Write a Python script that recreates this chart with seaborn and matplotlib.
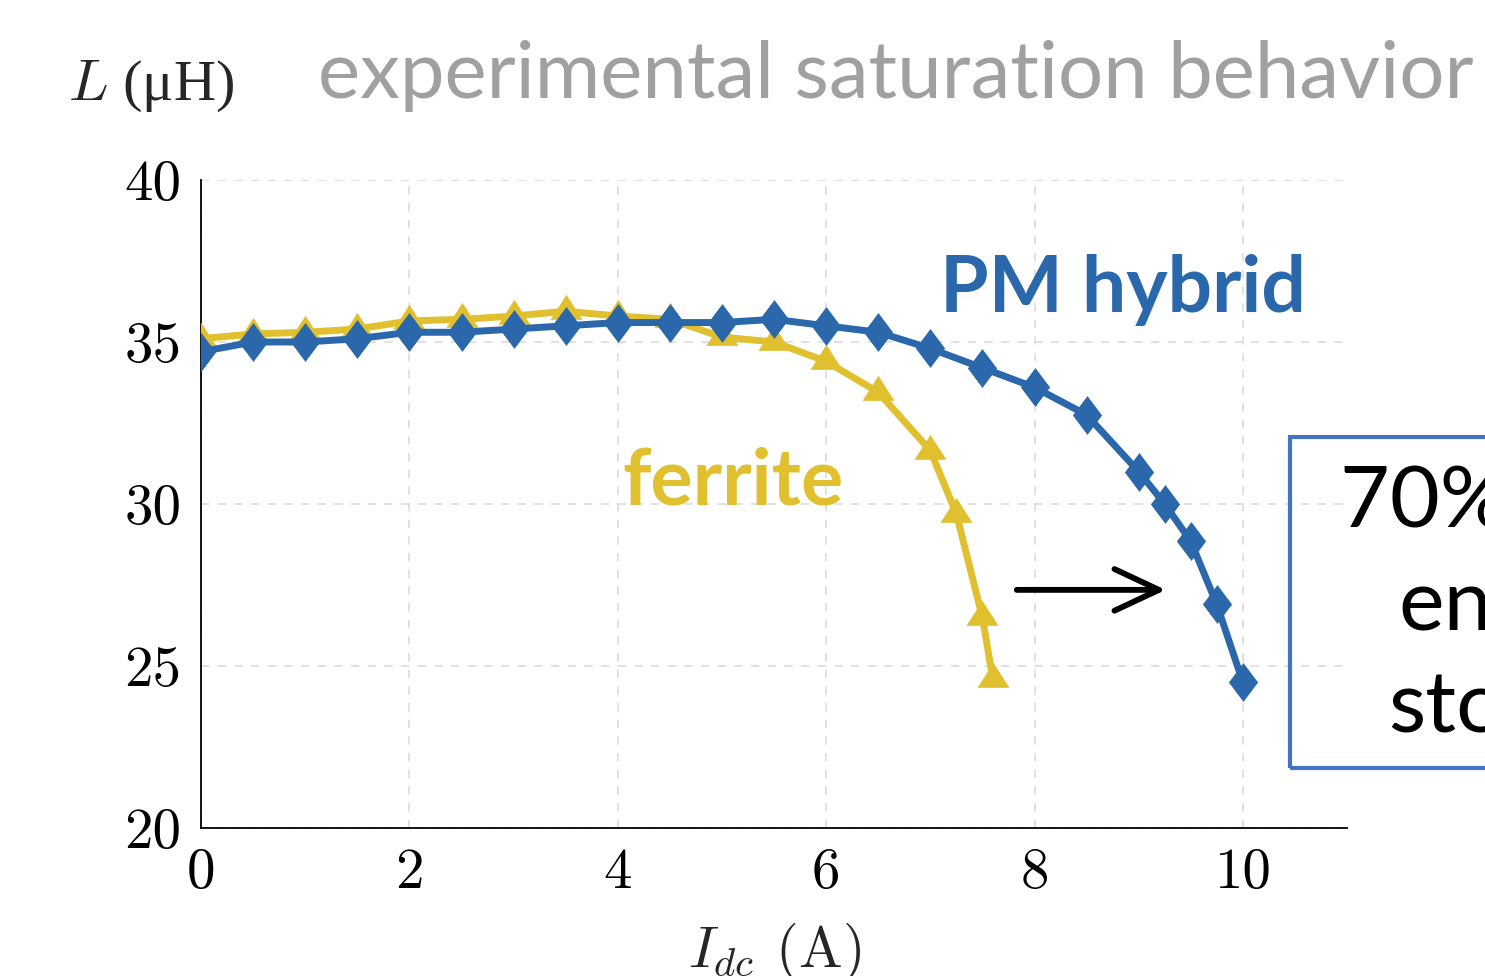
import numpy as np
import pandas as pd
import matplotlib
matplotlib.use("Agg")
import matplotlib.pyplot as plt
import seaborn as sns
from matplotlib.patches import Rectangle

# measured inductance vs dc current
ferrite_idc = [0, 0.5, 1, 1.5, 2, 2.5, 3, 3.5, 4, 4.5, 5, 5.5, 6, 6.5, 7, 7.25, 7.5, 7.6]
ferrite_L = [35.1, 35.25, 35.3, 35.4, 35.65, 35.7, 35.8, 35.95, 35.8, 35.7, 35.15, 35.0, 34.4, 33.45, 31.65, 29.7, 26.5, 24.6]

hybrid_idc = [0, 0.5, 1, 1.5, 2, 2.5, 3, 3.5, 4, 4.5, 5, 5.5, 6, 6.5, 7, 7.5, 8, 8.5, 9, 9.25, 9.5, 9.75, 10]
hybrid_L = [34.7, 35.0, 35.0, 35.1, 35.3, 35.3, 35.4, 35.5, 35.6, 35.6, 35.6, 35.7, 35.5, 35.3, 34.8, 34.2, 33.6, 32.75, 31.0, 30.0, 28.85, 26.9, 24.5]

x_ticks = [0, 2, 4, 6, 8, 10]
y_ticks = [20, 25, 30, 35, 40]

blue = "#2a68ab"
yellow = "#e0c02e"

sns.set_style("white")
plt.rcParams["mathtext.fontset"] = "cm"

fig = plt.figure(figsize=(14.85, 9.76), dpi=100)
ax = fig.add_axes([0.1354, 0.1516, 0.7717, 0.664])

tri = [(0, 1.04), (-1, -0.52), (1, -0.52)]
dia = [(0, 1), (0.75, 0), (0, -1), (-0.75, 0)]

df_f = pd.DataFrame({"Idc": ferrite_idc, "L": ferrite_L})
df_h = pd.DataFrame({"Idc": hybrid_idc, "L": hybrid_L})

sns.lineplot(data=df_f, x="Idc", y="L", ax=ax, color=yellow, lw=5,
             marker=tri, markersize=24, markeredgewidth=0, zorder=3)
sns.lineplot(data=df_h, x="Idc", y="L", ax=ax, color=blue, lw=5,
             marker=dia, markersize=28, markeredgewidth=0, zorder=4)

ax.set_xlim(0, 11)
ax.set_ylim(20, 40)
ax.set_xticks(x_ticks)
ax.set_yticks(y_ticks)
ax.set_xticklabels([str(t) for t in x_ticks], fontfamily="cmr10", fontsize=41)
ax.set_yticklabels([str(t) for t in y_ticks], fontfamily="cmr10", fontsize=41)
ax.tick_params(direction="in", length=5, width=1, pad=14, colors="black")
ax.grid(True, ls=(0, (5, 5)), color="#dcdcdc", lw=1.2)
for s in ["top", "right"]:
    ax.spines[s].set_visible(False)
for s in ["left", "bottom"]:
    ax.spines[s].set_color("black")
    ax.spines[s].set_linewidth(1.3)

ax.set_xlabel(r"$I_{dc}$ (A)", fontfamily="cmr10", fontsize=42, labelpad=16)
ax.set_ylabel("")

fig.text(0.0458, 0.8975, r"$L$ (μH)", fontfamily="Liberation Serif",
         fontsize=42, ha="left", va="baseline")
fig.text(0.2141, 0.8996, "experimental saturation behavior", fontfamily="Lato",
         fontsize=57.4, color="#a0a0a0", ha="left", va="baseline")

ax.text(7.09, 35.93, "PM hybrid", fontfamily="Lato", fontweight="bold",
        fontsize=56.5, color=blue, ha="left", va="baseline")
ax.text(4.04, 29.97, "ferrite", fontfamily="Lato", fontweight="bold",
        fontsize=57, color=yellow, ha="left", va="baseline")

ax.annotate("", xy=(9.26, 27.35), xytext=(7.83, 27.35),
            arrowprops=dict(arrowstyle="->,head_length=3.2,head_width=1.5",
                            lw=4.2, color="black", capstyle="round",
                            joinstyle="round", shrinkA=0, shrinkB=0))

fig.patches.append(Rectangle((1290 / 1485, 1 - 768 / 976), 0.2, (768 - 437) / 976,
                             transform=fig.transFigure, fill=False,
                             edgecolor="#4472c4", lw=3))
for txt, xp, yp in [("70% more", 1340, 528), ("energy", 1398, 630), ("storage", 1388, 732)]:
    fig.text(xp / 1485, 1 - yp / 976, txt, fontfamily="Lato", fontsize=62,
             color="black", ha="left", va="baseline")

fig.savefig("out.png", dpi=100)
